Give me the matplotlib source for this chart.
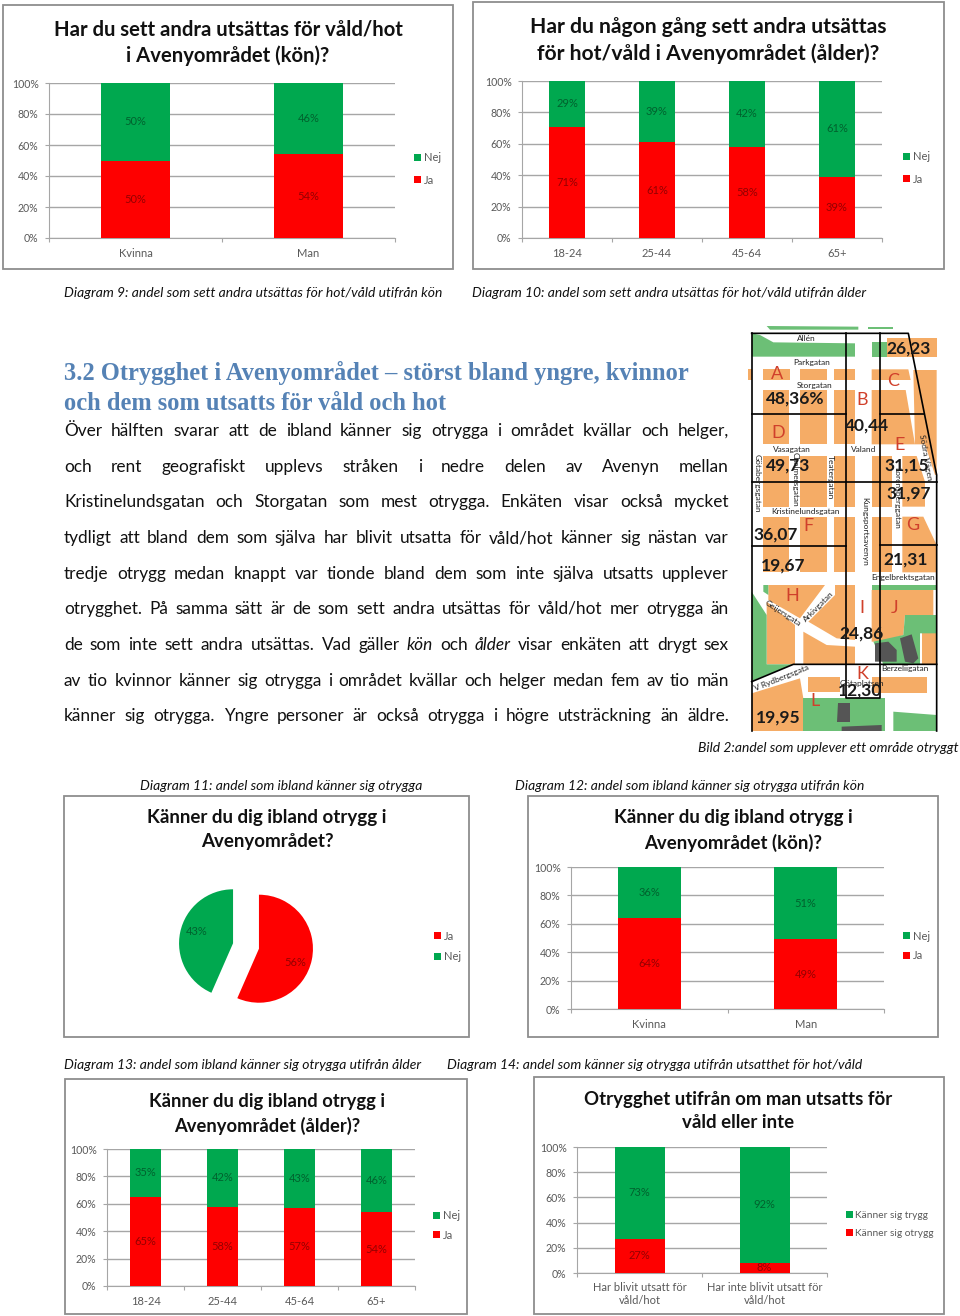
import numpy as np
import matplotlib
matplotlib.use('Agg')
import matplotlib.pyplot as plt
from matplotlib.patches import Polygon, Rectangle

W, H = 960, 1316
GREEN = '#00a84f'
RED = '#fe0000'
GRID = '#a6a6a6'
FONT = 'Lato'

percent_ticks = [0, 20, 40, 60, 80, 100]
percent_labels = ['0%', '20%', '40%', '60%', '80%', '100%']

# Diagram 9
kon9 = ['Kvinna', 'Man']
ja9 = [50, 54]
nej9 = [50, 46]
# Diagram 10
alder10 = ['18-24', '25-44', '45-64', '65+']
ja10 = [71, 61, 58, 39]
nej10 = [29, 39, 42, 61]
# Diagram 11
pie_names = ['Ja', 'Nej']
pie_values = [56, 43]
# Diagram 12
kon12 = ['Kvinna', 'Man']
ja12 = [64, 49]
nej12 = [36, 51]
# Diagram 13
alder13 = ['18-24', '25-44', '45-64', '65+']
ja13 = [65, 58, 57, 54]
nej13 = [35, 42, 43, 46]
# Diagram 14
utsatt14 = ['Har blivit utsatt för\nvåld/hot', 'Har inte blivit utsatt för\nvåld/hot']
otrygg14 = [27, 8]
trygg14 = [73, 92]

heading = ['3.2 Otrygghet i Avenyområdet – störst bland yngre, kvinnor',
           'och dem som utsatts för våld och hot']
body = ['Över hälften svarar att de ibland känner sig otrygga i området kvällar och helger,',
        'och rent geografiskt upplevs stråken i nedre delen av Avenyn mellan',
        'Kristinelundsgatan och Storgatan som mest otrygga. Enkäten visar också mycket',
        'tydligt att bland dem som själva har blivit utsatta för våld/hot känner sig nästan var',
        'tredje otrygg medan knappt var tionde bland dem som inte själva utsatts upplever',
        'otrygghet. På samma sätt är de som sett andra utsättas för våld/hot mer otrygga än',
        'de som inte sett andra utsättas. Vad gäller *kön* och *ålder* visar enkäten att drygt sex',
        'av tio kvinnor känner sig otrygga i området kvällar och helger medan fem av tio män',
        'känner sig otrygga. Yngre personer är också otrygga i högre utsträckning än äldre.']
body_y = [431, 467, 502, 538, 574, 609, 645, 681, 716]

captions = [(64, 292, 'Diagram 9: andel som sett andra utsättas för hot/våld utifrån kön'),
            (472, 292, 'Diagram 10: andel som sett andra utsättas för hot/våld utifrån ålder'),
            (698, 747, 'Bild 2:andel som upplever ett område otryggt'),
            (140, 785, 'Diagram 11: andel som ibland känner sig otrygga'),
            (515, 785, 'Diagram 12: andel som ibland känner sig otrygga utifrån kön'),
            (64, 1064, 'Diagram 13: andel som ibland känner sig otrygga utifrån ålder'),
            (447, 1064, 'Diagram 14: andel som känner sig otrygga utifrån utsatthet för hot/våld')]

# karta, koordinater i kartans egen ruta
area_values = ['48,36%', '26,23', '40,44', '49,73', '31,15', '31,97',
               '36,07', '19,67', '21,31', '24,86', '12,30', '19,95']
area_xy = [(167, 220), (507, 70), (382, 303), (146, 423), (501, 423), (507, 507),
           (108, 630), (128, 722), (497, 705), (366, 925), (360, 1097), (116, 1178)]
area_letters = ['A', 'B', 'C', 'D', 'E', 'F', 'G', 'H', 'I', 'J', 'K', 'L']
letter_xy = [(112, 147), (367, 225), (460, 167), (115, 325), (478, 360), (205, 602),
             (518, 600), (158, 813), (367, 850), (465, 848), (367, 1047), (225, 1128)]
streets = [('Allén', 198, 40, 0), ('Parkgatan', 215, 114, 0), ('Storgatan', 223, 182, 0),
           ('Vasagatan', 155, 373, 0), ('Valand', 370, 375, 0),
           ('Kristinelundsgatan', 195, 560, 0), ('Engelbrektsgatan', 488, 757, 0),
           ('Berzeliigatan', 495, 1030, 0), ('Götaplatsen', 365, 1075, 0),
           ('Götabergsgatan', 52, 475, -90), ('Chalmersgatan', 165, 463, -90),
           ('Teatergatan', 270, 458, -90), ('Kungsportsavenyn', 375, 620, -90),
           ('Lorensberggatan', 470, 520, -90), ('Södra Vägen', 555, 398, -80),
           ('Geijersgata', 128, 865, -33), ('Arkivgatan', 235, 845, 45),
           ('V Rydbergsgata', 125, 1060, 22)]
orange_blocks = [
    [(440, 40), (590, 40), (590, 95), (440, 95)],
    [(25, 133), (35, 133), (35, 165), (25, 165)],
    [(68, 133), (150, 133), (150, 165), (68, 165)],
    [(180, 133), (260, 133), (260, 165), (180, 165)],
    [(283, 133), (345, 133), (345, 165), (283, 165)],
    [(395, 133), (505, 133), (512, 165), (395, 165)],
    [(520, 135), (590, 135), (590, 450), (585, 450), (555, 358), (525, 358)],
    [(68, 195), (148, 195), (148, 358), (68, 358)],
    [(180, 195), (262, 195), (262, 358), (180, 358)],
    [(283, 195), (345, 195), (345, 358), (283, 358)],
    [(395, 195), (497, 195), (525, 358), (395, 358)],
    [(68, 393), (148, 393), (148, 545), (68, 545)],
    [(180, 393), (262, 393), (262, 545), (180, 545)],
    [(283, 393), (345, 393), (345, 545), (283, 545)],
    [(395, 393), (455, 393), (455, 545), (395, 545)],
    [(487, 393), (530, 393), (555, 470), (555, 545), (487, 545)],
    [(68, 575), (148, 575), (148, 742), (68, 742)],
    [(180, 575), (262, 575), (262, 742), (180, 742)],
    [(283, 575), (345, 575), (345, 742), (283, 742)],
    [(395, 575), (455, 575), (455, 742), (395, 742)],
    [(487, 575), (550, 575), (590, 660), (590, 742), (487, 742)],
    [(85, 780), (255, 780), (180, 880), (85, 825)],
    [(285, 780), (345, 780), (345, 945), (290, 940), (205, 890), (285, 810)],
    [(80, 830), (165, 900), (165, 1018), (80, 1018)],
    [(190, 920), (260, 960), (345, 965), (345, 1018), (190, 1018)],
    [(395, 795), (580, 795), (580, 870), (495, 870), (490, 930), (430, 950), (395, 950)],
    [(545, 925), (590, 925), (590, 1018), (545, 1018)],
    [(205, 1055), (300, 1055), (300, 1100), (205, 1100)],
    [(395, 1055), (560, 1055), (560, 1105), (395, 1105)],
    [(35, 1105), (180, 1060), (190, 1120), (220, 1120), (190, 1218), (35, 1218)],
]
green_blocks = [
    [(80, 3), (355, 5), (355, 14), (90, 14)],
    [(385, 5), (460, 5), (460, 12), (385, 12)],
    [(35, 25), (60, 30), (100, 52), (345, 55), (345, 95), (35, 95)],
    [(395, 50), (440, 50), (440, 95), (395, 95)],
    [(395, 780), (590, 780), (590, 795), (395, 795)],
    [(580, 870), (590, 870), (590, 925), (540, 925), (540, 1018), (430, 1018), (400, 950), (490, 930), (495, 870)],
    [(35, 800), (80, 870), (80, 1018), (160, 1018), (35, 1068)],
    [(70, 780), (85, 780), (85, 810), (70, 800)],
    [(190, 1120), (435, 1120), (435, 1218), (190, 1218)],
    [(460, 1160), (590, 1170), (590, 1218), (460, 1218)],
]
grey_blocks = [
    [(405, 955), (445, 950), (470, 975), (470, 1010), (405, 1010)],
    [(480, 940), (515, 928), (535, 1000), (520, 1015), (495, 1010)],
    [(295, 1135), (330, 1135), (330, 1190), (290, 1190)],
    [(305, 1205), (425, 1200), (425, 1218), (305, 1218)],
]
border_lines = [
    [(35, 25), (505, 25), (590, 450), (590, 1218)],
    [(35, 25), (35, 1218)],
    [(318, 25), (318, 1118), (420, 1118), (420, 25)],
    [(35, 268), (318, 268)], [(420, 268), (553, 268)],
    [(35, 471), (590, 471)],
    [(35, 662), (318, 662)], [(420, 660), (590, 660)],
    [(35, 1070), (160, 1018), (590, 1018)],
]


def pixel_axes(x0, y0, x1, y1):
    return fig.add_axes([x0 / W, 1 - y1 / H, (x1 - x0) / W, (y1 - y0) / H])


def add_legend(ax, handles, names, x, y, size=8, spacing=1.0):
    ax.legend(handles, names, loc='center left', bbox_to_anchor=(x, y),
              bbox_transform=page.transData, frameon=False, fontsize=size,
              labelcolor='#595959', handlelength=0.65, handleheight=0.65,
              handletextpad=0.25, labelspacing=spacing, borderpad=0, borderaxespad=0)


def stacked_chart(frame, plot, cats, low, high, title, title_size, title_x, title_y,
                  leg_xy, names=('Ja', 'Nej'), cat_pad=7, leg_size=8, leg_space=0.8):
    page.add_patch(Rectangle((frame[0], frame[1]), frame[2] - frame[0], frame[3] - frame[1],
                             fc='white', ec='#8e8e8e', lw=1.3))
    for line, y in zip(title, title_y):
        page.text(title_x, y, line, ha='center', va='center', fontsize=title_size,
                  fontweight='bold', color='#111111')
    ax = pixel_axes(*plot)
    ax.patch.set_alpha(0)
    x = np.arange(len(cats))
    b1 = ax.bar(x, low, 0.4, color=RED, zorder=3)
    b2 = ax.bar(x, high, 0.4, bottom=low, color=GREEN, zorder=3)
    ax.bar_label(b1, labels=[f'{v}%' for v in low], label_type='center', fontsize=8,
                 color='black', alpha=0.42, zorder=4)
    ax.bar_label(b2, labels=[f'{v}%' for v in high], label_type='center', fontsize=8,
                 color='black', alpha=0.42, zorder=4)
    ax.set_xlim(-0.5, len(cats) - 0.5)
    ax.set_ylim(0, 100)
    ax.set_yticks(percent_ticks, percent_labels)
    ax.set_xticks(np.arange(len(cats) + 1) - 0.5, [''] * (len(cats) + 1))
    ax.set_xticks(x, cats, minor=True)
    ax.grid(axis='y', color=GRID, lw=1, zorder=1)
    ax.tick_params(axis='y', color=GRID, length=3, labelsize=7.6, labelcolor='#595959', pad=4.5)
    ax.tick_params(axis='x', which='major', color=GRID, length=3)
    ax.tick_params(axis='x', which='minor', length=0, labelsize=8, labelcolor='#595959', pad=cat_pad)
    for side in ['top', 'right']:
        ax.spines[side].set_visible(False)
    for side in ['left', 'bottom']:
        ax.spines[side].set_color(GRID)
    add_legend(ax, [b2, b1], [names[1], names[0]], leg_xy[0], leg_xy[1], leg_size, leg_space)
    return ax


plt.rcParams['font.family'] = [FONT, 'DejaVu Sans']
fig = plt.figure(figsize=(W / 100, H / 100), dpi=100, facecolor='white')
page = fig.add_axes([0, 0, 1, 1])
page.set_xlim(0, W)
page.set_ylim(H, 0)
page.axis('off')

stacked_chart((3, 5, 453, 269), (49, 83, 395, 238), kon9, ja9, nej9,
              ['Har du sett andra utsättas för våld/hot', 'i Avenyområdet (kön)?'],
              14.6, 228, (30, 56), (414, 169), cat_pad=7.5, leg_space=1.0)
stacked_chart((473, 2, 944, 269), (522, 81, 882, 238), alder10, ja10, nej10,
              ['Har du någon gång sett andra utsättas', 'för hot/våld i Avenyområdet (ålder)?'],
              15.2, 708, (27, 54), (903, 168), cat_pad=7.5, leg_space=1.0)
stacked_chart((528, 796, 938, 1037), (571, 867, 884, 1009), kon12, ja12, nej12,
              ['Känner du dig ibland otrygg i', 'Avenyområdet (kön)?'],
              13.4, 733, (818, 843), (903, 946))
stacked_chart((65, 1079, 467, 1314), (107, 1149, 415, 1286), alder13, ja13, nej13,
              ['Känner du dig ibland otrygg i', 'Avenyområdet (ålder)?'],
              13.2, 267, (1102, 1126), (433, 1225.5), leg_space=0.73)
stacked_chart((534, 1077, 944, 1314), (577, 1147, 827, 1273), utsatt14, otrygg14, trygg14,
              ['Otrygghet utifrån om man utsatts för', 'våld eller inte'],
              13.4, 738, (1099, 1123), (846, 1224.5), names=('Känner sig otrygg', 'Känner sig trygg'),
              cat_pad=6.3, leg_size=7.3, leg_space=0.9)

# Diagram 11, cirkeln
page.add_patch(Rectangle((64, 796), 405, 241, fc='white', ec='#8e8e8e', lw=1.3))
for line, y in zip(['Känner du dig ibland otrygg i', 'Avenyområdet?'], (818, 842)):
    page.text(267, y, line, ha='center', va='center', fontsize=13.5, fontweight='bold', color='#111111')
pie_ax = pixel_axes(165, 865, 327, 1027)
shown = iter(pie_values)
wedges, _, pct = pie_ax.pie(pie_values, colors=[RED, GREEN], startangle=90, counterclock=False,
                            explode=[0.245, 0.245], autopct=lambda p: f'{next(shown)}%',
                            pctdistance=0.68, textprops={'fontsize': 8})
for t, dy in zip(pct, (-0.11, 0.07)):
    t.set_color('black')
    t.set_alpha(0.42)
    t.set_y(t.get_position()[1] + dy)
pie_ax.set_xlim(-1.5, 1.5)
pie_ax.set_ylim(-1.5, 1.5)
add_legend(pie_ax, wedges, pie_names, 434, 946.5, spacing=0.9)

for x, y, s in captions:
    page.text(x, y + 1, s, ha='left', va='center', fontsize=10, style='italic', color='#111111',
              clip_on=True)

for s, y in zip(heading, (373, 404)):
    page.text(64, y, s, ha='left', va='center', fontsize=17.65, fontweight='bold',
              family='Liberation Serif', color='#5582b5')

# brödtext, marginaljusterad ord for ord
renderer = fig.canvas.get_renderer()
for line, y in zip(body, body_y):
    words = []
    for w in line.split():
        it = w.startswith('*')
        t = page.text(0, y, w.strip('*'), ha='left', va='center', fontsize=12.4,
                      style='italic' if it else 'normal', color='#111111')
        words.append(t)
    widths = [t.get_window_extent(renderer).width for t in words]
    gap = (729 - 64 - sum(widths)) / (len(words) - 1)
    pos = 64
    for t, w in zip(words, widths):
        t.set_x(pos)
        pos += w + gap

# karta
map_ax = pixel_axes(740, 325, 960, 755)
map_ax.set_xlim(0, 660)
map_ax.set_ylim(1290, 0)
map_ax.axis('off')
for poly in orange_blocks:
    map_ax.add_patch(Polygon(poly, fc='#f5ac66', ec='none'))
for poly in green_blocks:
    map_ax.add_patch(Polygon(poly, fc='#6cbf76', ec='none'))
for poly in grey_blocks:
    map_ax.add_patch(Polygon(poly, fc='#555555', ec='none'))
for line in border_lines:
    xs, ys = zip(*line)
    map_ax.plot(xs, ys, color='black', lw=1.2)
for s, x, y, rot in streets:
    map_ax.text(x, y, s, ha='center', va='center', rotation=rot, fontsize=6, color='#222222')
for s, (x, y) in zip(area_letters, letter_xy):
    map_ax.text(x, y, s, ha='center', va='center', fontsize=13, color='#d0402b')
for s, (x, y) in zip(area_values, area_xy):
    map_ax.text(x, y, s, ha='center', va='center', fontsize=12.5, fontweight='bold', color='#1a1a1a')

plt.savefig('out.png', dpi=100)
